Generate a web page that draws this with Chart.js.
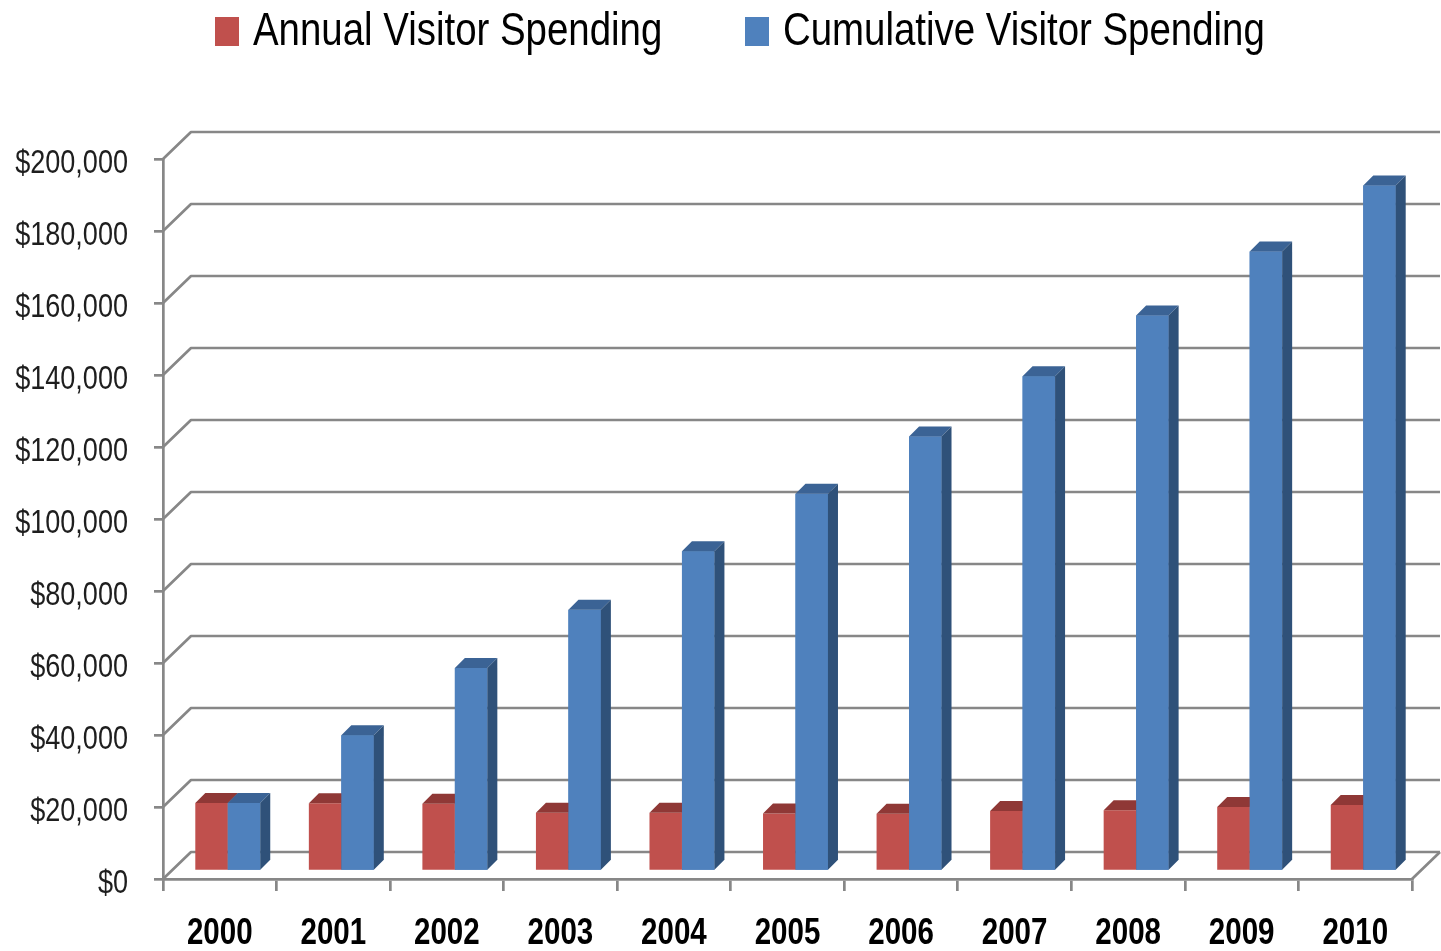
<!DOCTYPE html>
<html>
<head>
<meta charset="utf-8">
<title>Visitor Spending</title>
<script src="https://cdn.jsdelivr.net/npm/chart.js@4.4.1/dist/chart.umd.min.js"></script>
<style>
    html, body { margin: 0; padding: 0; background: #ffffff; }
    #wrap { position: relative; width: 1441px; height: 951px; }
    #spendingChart { display: block; }
    .legend-item {
        position: absolute; top: 6px; display: flex; align-items: flex-start;
        font-family: "Liberation Sans", Arial, sans-serif;
        font-size: 46px; line-height: 46px; color: #000000; white-space: nowrap;
    }
    .legend-swatch { width: 24px; height: 29px; margin-top: 11px; margin-right: 14px; flex-shrink: 0; }
    .legend-text { display: inline-block; transform: scaleX(0.835); transform-origin: left center; }
</style>
</head>
<body>
<div id="wrap">
    <canvas id="spendingChart" width="1441" height="951"></canvas>
    <div id="spending-legend"></div>
</div>
<script>
// 年度 / 累計 遊客消費（3D 風格柱狀圖）
const YEARS = ["2000", "2001", "2002", "2003", "2004", "2005", "2006", "2007", "2008", "2009", "2010"];
const ANNUAL_SPENDING = [18900, 18800, 18700, 16200, 16200, 16000, 15900, 16700, 16900, 17800, 18300];
const CUMULATIVE_SPENDING = [18900, 37700, 56400, 72600, 88800, 104800, 120700, 137400, 154300, 172100, 190400];
const Y_TICKS = [0, 20000, 40000, 60000, 80000, 100000, 120000, 140000, 160000, 180000, 200000];

const SERIES_LABELS = ["Annual Visitor Spending", "Cumulative Visitor Spending"];
const SERIES_COLORS = ["#C0504D", "#4F81BD"];
const SERIES_TOP_COLORS = ["#8F3836", "#3B6395"];
const SERIES_SIDE_COLORS = ["#7E302E", "#2F5179"];

// 圖例兩個項目的左邊位置（px）
const LEGEND_LEFT = [215, 745];

const AXIS_COLOR = "#878787";
const FONT_FAMILY = '"Liberation Sans", Arial, sans-serif';
// 字型沒有窄體，刻度文字用水平壓縮模擬
const LABEL_SQUEEZE = 0.82;

// 背牆相對於前方座標平面的位移，柱子則放在地板中間偏前的位置
const WALL_DEPTH_X = 28;
const WALL_DEPTH_Y = 27;
const BAR_OFFSET = 8;
const BAR_DEPTH = 10;

function formatDollars(value) {
    return "$" + value.toLocaleString("en-US");
}

// 背牆的橫向格線：從前方刻度斜向連到背牆，再往右延伸
const backWallPlugin = {
    id: "backWall",
    beforeDatasetsDraw(chart) {
        const { ctx, chartArea, scales } = chart;
        ctx.save();
        ctx.strokeStyle = AXIS_COLOR;
        ctx.lineWidth = 2.7;
        ctx.lineJoin = "round";
        Y_TICKS.forEach((value) => {
            const py = scales.y.getPixelForValue(value);
            ctx.beginPath();
            ctx.moveTo(chartArea.left, py);
            ctx.lineTo(chartArea.left + WALL_DEPTH_X, py - WALL_DEPTH_Y);
            ctx.lineTo(chartArea.right + WALL_DEPTH_X, py - WALL_DEPTH_Y);
            ctx.stroke();
        });
        // 地板右側的斜邊
        ctx.beginPath();
        ctx.moveTo(chartArea.right, chartArea.bottom);
        ctx.lineTo(chartArea.right + WALL_DEPTH_X, chartArea.bottom - WALL_DEPTH_Y);
        ctx.stroke();
        ctx.restore();
    }
};

function drawBarFaces(ctx, bar, topColor, sideColor) {
    const { x, y, base, width } = bar.getProps(["x", "y", "base", "width"], true);
    const left = x - width / 2;
    const right = x + width / 2;

    ctx.fillStyle = topColor;
    ctx.beginPath();
    ctx.moveTo(left, y);
    ctx.lineTo(right, y);
    ctx.lineTo(right + BAR_DEPTH, y - BAR_DEPTH);
    ctx.lineTo(left + BAR_DEPTH, y - BAR_DEPTH);
    ctx.closePath();
    ctx.fill();

    ctx.fillStyle = sideColor;
    ctx.beginPath();
    ctx.moveTo(right, y);
    ctx.lineTo(right + BAR_DEPTH, y - BAR_DEPTH);
    ctx.lineTo(right + BAR_DEPTH, base - BAR_DEPTH);
    ctx.lineTo(right, base);
    ctx.closePath();
    ctx.fill();
}

// 柱子整體往後推一點，再補上頂面和側面；紅柱的側面會被藍柱正面蓋住
const barDepthPlugin = {
    id: "barDepth",
    beforeDatasetsDraw(chart) {
        chart.ctx.save();
        chart.ctx.translate(BAR_OFFSET, -BAR_OFFSET);
    },
    afterDatasetsDraw(chart) {
        const ctx = chart.ctx;
        const annualBars = chart.getDatasetMeta(0).data;
        const cumulativeBars = chart.getDatasetMeta(1).data;
        annualBars.forEach((bar, i) => {
            drawBarFaces(ctx, bar, SERIES_TOP_COLORS[0], SERIES_SIDE_COLORS[0]);
            cumulativeBars[i].draw(ctx);
            drawBarFaces(ctx, cumulativeBars[i], SERIES_TOP_COLORS[1], SERIES_SIDE_COLORS[1]);
        });
        ctx.restore();
    }
};

function drawSqueezedText(ctx, text, x, y, align) {
    ctx.save();
    ctx.translate(x, y);
    ctx.scale(LABEL_SQUEEZE, 1);
    ctx.textAlign = align;
    ctx.fillText(text, 0, 0);
    ctx.restore();
}

// 座標軸文字：位置都從 Chart.js 的刻度換算
const axisLabelsPlugin = {
    id: "axisLabels",
    afterDraw(chart) {
        const { ctx, scales } = chart;
        ctx.save();
        ctx.textBaseline = "alphabetic";

        ctx.fillStyle = "#1E1E1E";
        ctx.font = `33px ${FONT_FAMILY}`;
        Y_TICKS.forEach((value) => {
            drawSqueezedText(ctx, formatDollars(value), scales.y.right - 35, scales.y.getPixelForValue(value) + 14, "right");
        });

        ctx.fillStyle = "#000000";
        ctx.font = `bold 36px ${FONT_FAMILY}`;
        YEARS.forEach((year, i) => {
            drawSqueezedText(ctx, year, scales.x.getPixelForValue(i), scales.x.top + 65, "center");
        });
        ctx.restore();
    }
};

function renderSpendingLegend() {
    const container = document.getElementById("spending-legend");
    container.innerHTML = "";
    SERIES_LABELS.forEach((label, index) => {
        const item = document.createElement("div");
        item.className = "legend-item";
        item.style.left = `${LEGEND_LEFT[index]}px`;
        item.innerHTML = `
            <span class="legend-swatch" style="background-color: ${SERIES_COLORS[index]}"></span>
            <span class="legend-text">${label}</span>
        `;
        container.appendChild(item);
    });
}

function renderSpendingChart() {
    const ctx = document.getElementById("spendingChart");
    return new Chart(ctx, {
        type: "bar",
        data: {
            labels: YEARS,
            datasets: [
                {
                    label: SERIES_LABELS[0],
                    data: ANNUAL_SPENDING,
                    backgroundColor: SERIES_COLORS[0],
                    borderWidth: 0,
                    barPercentage: 1,
                    categoryPercentage: 0.572
                },
                {
                    label: SERIES_LABELS[1],
                    data: CUMULATIVE_SPENDING,
                    backgroundColor: SERIES_COLORS[1],
                    borderWidth: 0,
                    barPercentage: 1,
                    categoryPercentage: 0.572
                }
            ]
        },
        options: {
            responsive: false,
            animation: false,
            devicePixelRatio: 1,
            layout: { padding: { top: 159, right: 29, bottom: 0, left: 0 } },
            plugins: {
                legend: { display: false },
                tooltip: { enabled: false }
            },
            scales: {
                x: {
                    afterFit: (scale) => { scale.height = 72; },
                    border: { display: true, color: AXIS_COLOR, width: 2.7 },
                    grid: { offset: true, drawOnChartArea: false, drawTicks: true, tickLength: 12, color: AXIS_COLOR, lineWidth: 2.7 },
                    ticks: { display: false, autoSkip: false }
                },
                y: {
                    min: 0,
                    max: 200000,
                    afterBuildTicks: (scale) => { scale.ticks = Y_TICKS.map((value) => ({ value })); },
                    afterFit: (scale) => { scale.width = 163; },
                    border: { display: true, color: AXIS_COLOR, width: 2.7 },
                    grid: { drawOnChartArea: false, drawTicks: true, tickLength: 9, color: AXIS_COLOR, lineWidth: 2.7 },
                    ticks: { display: false }
                }
            }
        },
        plugins: [backWallPlugin, barDepthPlugin, axisLabelsPlugin]
    });
}

renderSpendingLegend();
renderSpendingChart();
</script>
</body>
</html>
